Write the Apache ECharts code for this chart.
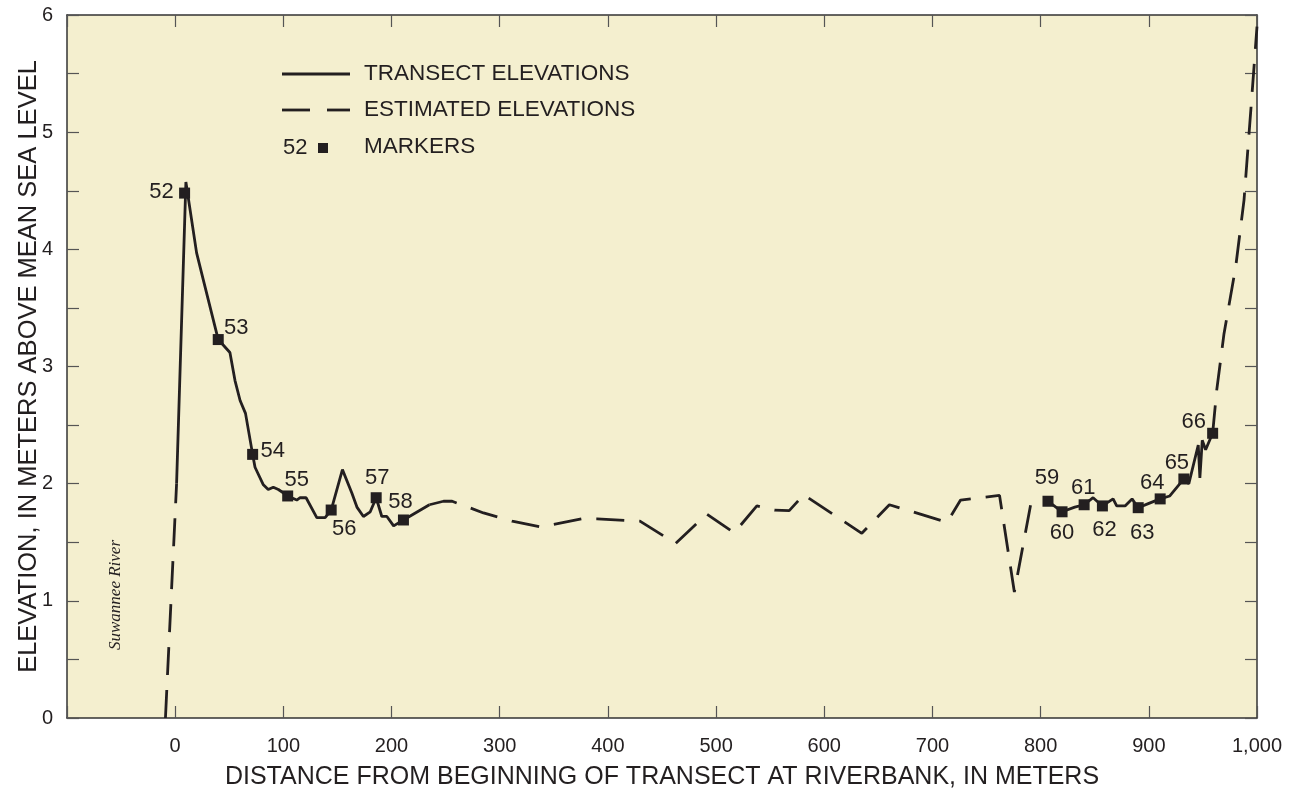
<!DOCTYPE html>
<html>
<head>
<meta charset="utf-8">
<script src="https://cdn.jsdelivr.net/npm/echarts@6/dist/echarts.min.js"></script>
<style>
  html, body { margin: 0; padding: 0; background: #ffffff; }
  #chart { width: 1289px; height: 792px; }
</style>
</head>
<body>
<div id="chart"></div>
<script>
// transect surveyed elevations (distance m, elevation m)
var transectWest = [[1.3, 2.0], [9.9, 4.575], [19.8, 3.97], [26, 3.74], [39.8, 3.23], [50.6, 3.12],
  [55.3, 2.88], [60, 2.71], [65, 2.6], [71.6, 2.25], [73.8, 2.14], [81.5, 1.99], [86, 1.95],
  [90.7, 1.97], [95.4, 1.95], [104, 1.895], [112.4, 1.86], [115.5, 1.88], [121, 1.88],
  [130.9, 1.71], [138.6, 1.71], [144.2, 1.775], [154.6, 2.12], [163.3, 1.92], [168, 1.80],
  [174, 1.72], [180.3, 1.76], [185.8, 1.88], [191, 1.72], [195.7, 1.72], [201.9, 1.64],
  [211, 1.69], [235, 1.82]];
var transectEast = [[806.8, 1.85], [819.8, 1.76], [831.6, 1.80], [840.2, 1.82], [848.5, 1.88],
  [857.1, 1.81], [867, 1.87], [870.3, 1.81], [878, 1.81], [884.5, 1.87], [890.2, 1.795],
  [899.5, 1.83], [910.5, 1.87], [919.4, 1.895], [932.4, 2.04], [937, 2.0], [945.7, 2.33],
  [947.2, 2.05], [949.4, 2.37], [952.5, 2.29], [959, 2.43]];

// estimated elevations
var estimatedRiver = [[-9, 0], [1.3, 2.0]];
var estimatedMiddle = [[235, 1.82], [248, 1.85], [256, 1.85], [285, 1.75], [311.5, 1.68],
  [337.7, 1.63], [376, 1.70], [390, 1.70], [429.6, 1.68], [462.7, 1.49], [491.4, 1.74],
  [516.7, 1.58], [537.7, 1.81], [554, 1.775], [567.6, 1.77], [581.5, 1.91], [585, 1.88],
  [618.6, 1.675], [634.7, 1.576], [660.2, 1.82], [713.5, 1.67], [726, 1.86], [762, 1.90],
  [775.7, 1.075], [792.8, 1.92]];
var estimatedEast = [[959, 2.43], [962.8, 2.8], [969.5, 3.28], [980.3, 3.85], [988, 4.42],
  [994.3, 5.19], [1000, 5.9]];

// numbered markers
var markerIds = ['52', '53', '54', '55', '56', '57', '58', '59', '60', '61', '62', '63', '64', '65', '66'];
var markerX = [8.7, 39.8, 71.6, 104, 144.2, 185.8, 211, 806.8, 819.8, 840.2, 857.1, 890.2, 910.5, 932.4, 959];
var markerY = [4.48, 3.23, 2.25, 1.895, 1.775, 1.88, 1.69, 1.85, 1.76, 1.82, 1.81, 1.795, 1.87, 2.04, 2.43];

var xTicks = { min: -100, max: 1000, step: 100 };
var yTicks = { min: 0, max: 6, step: 1 };

// label offsets from marker centre (px)
var labelOffset = {
  '52': [-23, -1], '53': [18, -12], '54': [20, -3], '55': [9, -16], '56': [13, 19],
  '57': [1, -20], '58': [-3, -18], '59': [-1, -23], '60': [0, 21], '61': [-1, -17],
  '62': [2, 24], '63': [4, 25], '64': [-8, -16], '65': [-7, -16], '66': [-19, -11]
};

var ink = '#231f20';
var sans = '"Liberation Sans", Arial, Helvetica, sans-serif';
var dash = [28, 15];

var markerData = markerIds.map(function (id, i) {
  return {
    name: id,
    value: [markerX[i], markerY[i]],
    label: { offset: labelOffset[id] }
  };
});

function xLabel(v) {
  if (v === xTicks.min) return '';
  return String(v).replace(/\B(?=(\d{3})+(?!\d))/g, ',');
}

var axisLineStyle = { color: '#333', width: 1.5 };
var tickStyle = { color: '#555', width: 1.2 };

var chart = echarts.init(document.getElementById('chart'), null, { renderer: 'canvas' });
chart.setOption({
  backgroundColor: '#ffffff',
  animation: false,
  grid: {
    left: 67, right: 32, top: 15, bottom: 74,
    outerBoundsMode: 'none', containLabel: false,
    show: true, backgroundColor: '#f4efcf', borderWidth: 0
  },
  xAxis: [{
    type: 'value', position: 'bottom',
    min: xTicks.min, max: xTicks.max, interval: xTicks.step,
    name: 'DISTANCE FROM BEGINNING OF TRANSECT AT RIVERBANK, IN METERS',
    nameLocation: 'middle', nameGap: 47, nameMoveOverlap: false,
    nameTextStyle: { color: ink, fontSize: 25, fontFamily: sans },
    axisLine: { onZero: false, lineStyle: axisLineStyle },
    axisTick: { inside: true, length: 12, lineStyle: tickStyle },
    axisLabel: { formatter: xLabel, color: ink, fontSize: 20, fontFamily: sans, margin: 18 },
    splitLine: { show: false }
  }, {
    type: 'value', position: 'top',
    min: xTicks.min, max: xTicks.max, interval: xTicks.step,
    axisLine: { onZero: false, lineStyle: axisLineStyle },
    axisTick: { inside: true, length: 12, lineStyle: tickStyle },
    axisLabel: { show: false },
    splitLine: { show: false }
  }],
  yAxis: [{
    type: 'value', position: 'left',
    min: yTicks.min, max: yTicks.max, interval: yTicks.step,
    name: 'ELEVATION, IN METERS ABOVE MEAN SEA LEVEL',
    nameLocation: 'middle', nameGap: 25, nameMoveOverlap: false,
    nameTextStyle: { color: ink, fontSize: 25.5, fontFamily: sans },
    axisLine: { show: true, onZero: false, lineStyle: axisLineStyle },
    axisTick: { show: true, inside: true, length: 12, lineStyle: tickStyle },
    minorTick: { show: true, splitNumber: 2, length: 12, lineStyle: tickStyle },
    axisLabel: { color: ink, fontSize: 20, fontFamily: sans, margin: 14 },
    splitLine: { show: false }
  }, {
    type: 'value', position: 'right',
    min: yTicks.min, max: yTicks.max, interval: yTicks.step,
    axisLine: { show: true, onZero: false, lineStyle: axisLineStyle },
    axisTick: { show: true, inside: true, length: 12, lineStyle: tickStyle },
    minorTick: { show: true, splitNumber: 2, length: 12, lineStyle: tickStyle },
    axisLabel: { show: false },
    splitLine: { show: false }
  }],
  series: [{
    type: 'line', name: 'TRANSECT ELEVATIONS', data: transectWest,
    symbol: 'none', lineStyle: { color: ink, width: 2.8 }
  }, {
    type: 'line', name: 'TRANSECT ELEVATIONS', data: transectEast,
    symbol: 'none', lineStyle: { color: ink, width: 2.8 }
  }, {
    type: 'line', name: 'ESTIMATED ELEVATIONS', data: estimatedRiver,
    symbol: 'none', lineStyle: { color: ink, width: 2.8, type: dash }
  }, {
    type: 'line', name: 'ESTIMATED ELEVATIONS', data: estimatedMiddle,
    symbol: 'none', lineStyle: { color: ink, width: 2.8, type: dash }
  }, {
    type: 'line', name: 'ESTIMATED ELEVATIONS', data: estimatedEast,
    symbol: 'none', lineStyle: { color: ink, width: 2.8, type: dash }
  }, {
    type: 'scatter', name: 'MARKERS', data: markerData,
    symbol: 'rect', symbolSize: 11,
    itemStyle: { color: ink, opacity: 1 },
    label: {
      show: true, position: 'inside', formatter: '{b}',
      color: ink, fontSize: 22, fontFamily: sans, opacity: 1
    },
    z: 5
  }],
  graphic: [
    // legend
    { type: 'line', shape: { x1: 282, y1: 74, x2: 350, y2: 74 }, style: { stroke: ink, lineWidth: 2.8 } },
    { type: 'line', shape: { x1: 282, y1: 110, x2: 310, y2: 110 }, style: { stroke: ink, lineWidth: 2.8 } },
    { type: 'line', shape: { x1: 327, y1: 110, x2: 350, y2: 110 }, style: { stroke: ink, lineWidth: 2.8 } },
    { type: 'rect', shape: { x: 318, y: 143, width: 10, height: 10 }, style: { fill: ink } },
    { type: 'text', x: 283, y: 148, style: { text: '52', fill: ink, font: '22px ' + sans, verticalAlign: 'middle' } },
    { type: 'text', x: 364, y: 74, style: { text: 'TRANSECT ELEVATIONS', fill: ink, font: '22.5px ' + sans, verticalAlign: 'middle' } },
    { type: 'text', x: 364, y: 110, style: { text: 'ESTIMATED ELEVATIONS', fill: ink, font: '22.5px ' + sans, verticalAlign: 'middle' } },
    { type: 'text', x: 364, y: 147, style: { text: 'MARKERS', fill: ink, font: '22.5px ' + sans, verticalAlign: 'middle' } },
    // river annotation
    {
      type: 'text', x: 116, y: 650, rotation: Math.PI / 2,
      style: { text: 'Suwannee River', fill: ink, font: 'italic 17px "Liberation Serif", "Times New Roman", serif',
        align: 'left', verticalAlign: 'middle' }
    }
  ]
});
</script>
</body>
</html>
